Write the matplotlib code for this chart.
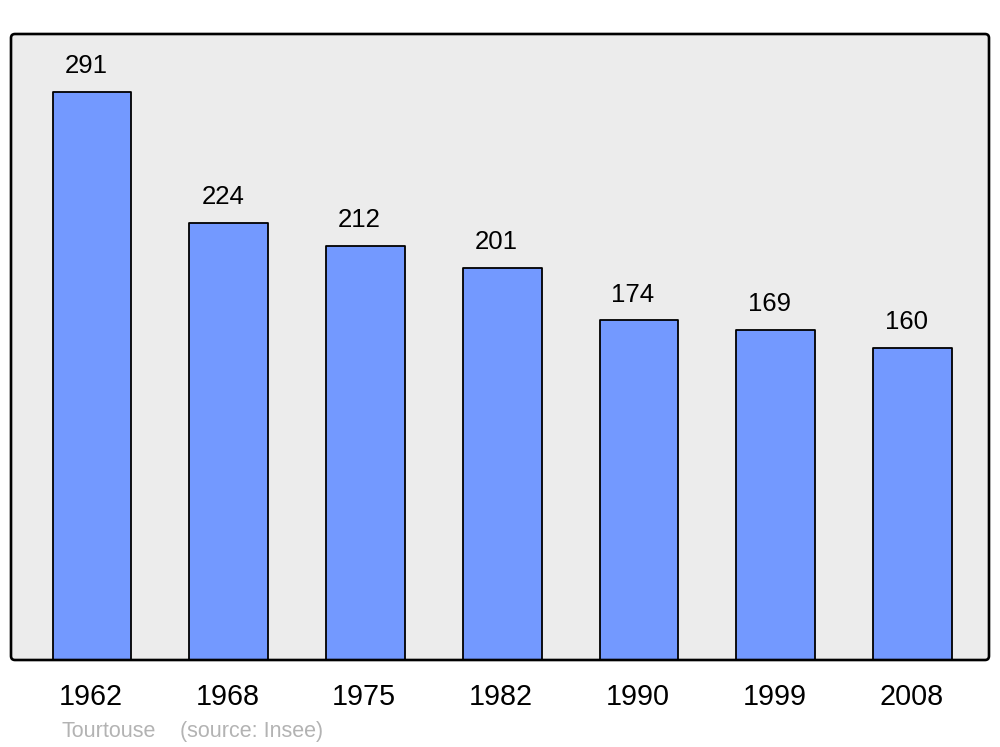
import matplotlib
matplotlib.use("Agg")
import matplotlib.pyplot as plt
from matplotlib.patches import FancyBboxPatch
from matplotlib.transforms import IdentityTransform

years = ["1962", "1968", "1975", "1982", "1990", "1999", "2008"]
population = [291, 224, 212, 201, 174, 169, 160]
commune = "Tourtouse"
source = "(source: Insee)"

plt.rcParams['font.family'] = ['Liberation Sans', 'DejaVu Sans']

fig = plt.figure(figsize=(10, 7.47), dpi=100)
ax = fig.add_axes([0.011, 0.1165, 0.978, 0.838])
ax.set_facecolor('#ececec')

x = list(range(len(years)))
bars = ax.bar(x, population, width=0.575, color='#7399ff', edgecolor='black',
              linewidth=1.3, zorder=2)
for b in bars:
    b.set_joinstyle('round')

ax.set_xlim(-0.592, 6.559)
ax.set_ylim(0, 320.7)
ax.set_xticks([])
ax.set_yticks([])
for s in ax.spines.values():
    s.set_visible(False)

# rounded frame around the plot area (in pixel coordinates)
frame = FancyBboxPatch((11, 747 - 660), 978, 626,
                       boxstyle='round,pad=0,rounding_size=4',
                       transform=IdentityTransform(), facecolor='none',
                       edgecolor='black', linewidth=1.9, zorder=5)
fig.add_artist(frame)

for xi, v in zip(x, population):
    ax.annotate(str(v), xy=(xi, v), xytext=(-4.3, 13.5), textcoords='offset points',
                ha='center', va='baseline', fontsize=18.5, color='black')

for xi, y in zip(x, years):
    ax.annotate(y, xy=(xi, 0), xycoords=('data', 'axes fraction'),
                xytext=(-1, -32.4), textcoords='offset points',
                ha='center', va='baseline', fontsize=20.7, color='black')

fig.text(0.061, 1 - 737 / 747, commune, fontsize=15.5, color='#b3b3b3', va='baseline', ha='left')
fig.text(0.180, 1 - 737 / 747, source, fontsize=15.5, color='#b3b3b3', va='baseline', ha='left')

fig.savefig('out.png', dpi=100)
